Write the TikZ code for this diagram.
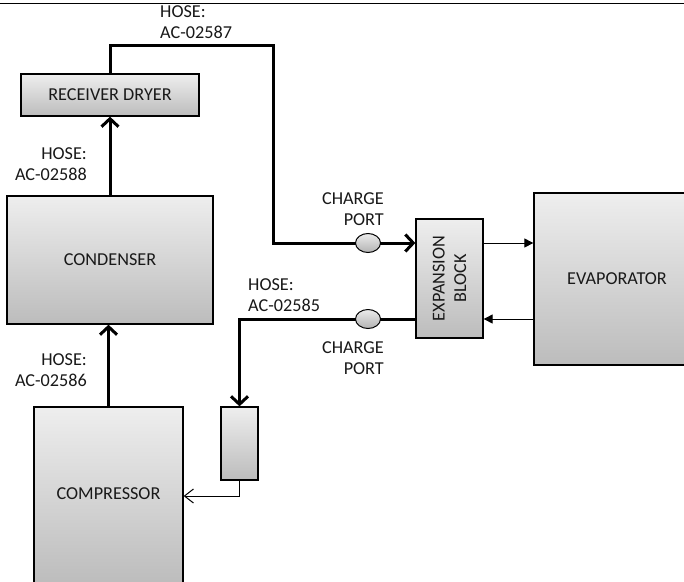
\documentclass[tikz,border=0pt]{standalone}
\usepackage{fontspec}
\setmainfont{Carlito}
\usetikzlibrary{arrows.meta,shapes.geometric,shadows}
\definecolor{boxtop}{RGB}{238,238,238}
\definecolor{boxbot}{RGB}{188,188,188}
\definecolor{porttop}{RGB}{236,236,236}
\definecolor{portbot}{RGB}{178,178,178}
\definecolor{txt}{RGB}{25,25,25}
\begin{document}
\begin{tikzpicture}[x=1pt,y=-1pt,
  font=\fontsize{18.2}{21.5}\selectfont,
  unit/.style={draw=black, line width=1.3pt, rectangle, top color=boxtop, bottom color=boxbot,
    text=txt, inner sep=0pt, drop shadow={shadow xshift=1.2pt, shadow yshift=-1.2pt, opacity=0.25}},
  port/.style={draw=black, line width=1pt, ellipse, top color=porttop, bottom color=portbot,
    minimum width=25pt, minimum height=19pt, inner sep=0pt},
  hose/.style={line width=3pt, line join=miter},
  bigtip/.style={-{Straight Barb[length=8pt,width=17pt]}},
  thinline/.style={line width=1pt},
  lbl/.style={inner sep=0pt, text=txt}
]
\clip (0,0) rectangle (684,581);
\fill[white] (0,0) rectangle (684,581);
\draw[line width=1.5pt] (0,3.5) -- (684,3.5);

% units
\node[unit, minimum width=178pt, minimum height=42pt] (rd) at (110,95) {RECEIVER DRYER};
\node[unit, minimum width=206pt, minimum height=128pt] (cond) at (110,260) {CONDENSER};
\node[unit, minimum width=149pt, minimum height=178pt] (comp) at (108.5,496) {};
\node[lbl] at (108.5,494) {COMPRESSOR};
\node[unit, minimum width=67pt, minimum height=119pt] (eb) at (449.5,278.5) {};
\node[lbl, rotate=90, align=center] at (eb.center) {EXPANSION\\BLOCK};
\node[unit, minimum width=166pt, minimum height=172pt] (ev) at (617,279) {EVAPORATOR};
\node[unit, minimum width=37pt, minimum height=73pt] (acc) at (239.5,443.5) {};

% charge ports (positions)
\coordinate (cp1pos) at (368,243);
\coordinate (cp2pos) at (368,319);
\coordinate (t1) at (273,45);

% hoses
\draw[hose, bigtip] (cond.north) -- (rd.south);
\draw[hose, bigtip] (comp.north) -- (comp.north |- cond.south);
\draw[hose, bigtip] (rd.north) |- (t1) |- (cp1pos) -- (cp1pos -| eb.west);
\draw[hose, bigtip] (eb.west |- cp2pos) -- (cp2pos) -| (acc.north);

\node[port] (cp1) at (cp1pos) {};
\node[port] (cp2) at (cp2pos) {};

% thin lines
\draw[thinline, -{Triangle[length=9pt,width=9pt]}] (eb.east |- cp1) -- (ev.west |- cp1);
\draw[thinline, -{Triangle[length=9pt,width=9pt]}] (ev.west |- cp2) -- (eb.east |- cp2);
\draw[thinline, -{Straight Barb[length=9pt,width=14pt]}] (acc.south) |- (comp.east);

% labels
\node[lbl, align=left, anchor=west] (l1) at (160,22) {HOSE:\\AC-02587};
\node[lbl, align=right, anchor=east] (l2) at (87,164) {HOSE:\\AC-02588};
\node[lbl, align=right, anchor=east] (l3) at (87,370) {HOSE:\\AC-02586};
\node[lbl, align=left, anchor=west] (l4) at (248,295) {HOSE:\\AC-02585};
\node[lbl, align=right, anchor=east] (l5) at (384,209) {CHARGE\\PORT};
\node[lbl, align=right, anchor=east] (l6) at (384,358) {CHARGE\\PORT};
\end{tikzpicture}
\end{document}
